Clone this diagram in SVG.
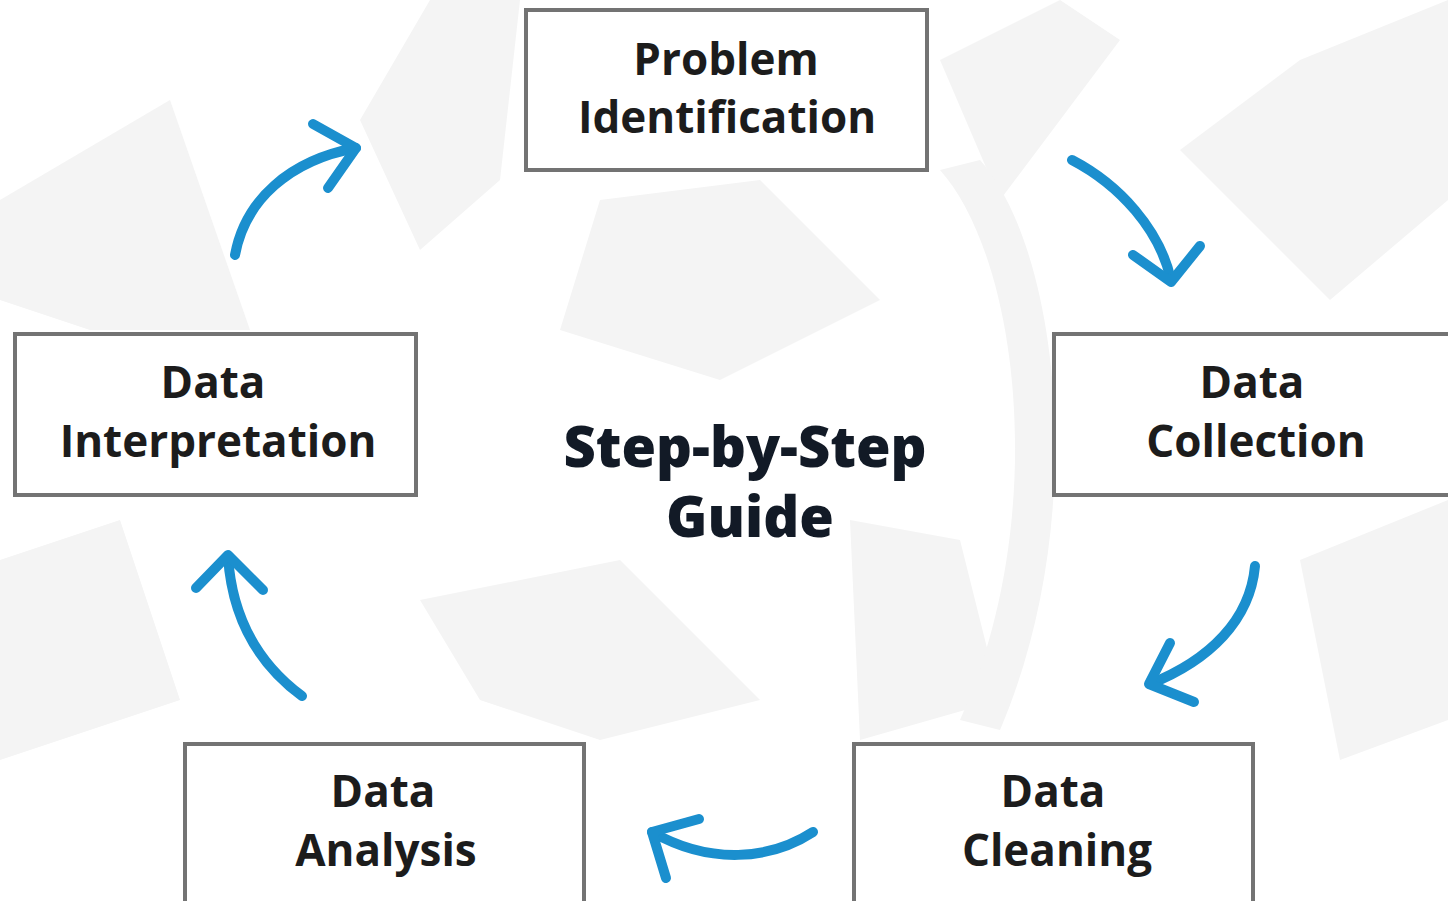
<svg xmlns="http://www.w3.org/2000/svg" width="1448" height="901" viewBox="0 0 1448 901">
  <defs>
    <style>
      .bg { fill: #f4f4f4; }
      .box { fill: #ffffff; stroke: #737373; stroke-width: 4; }
      .lbl { font-family: "Open Sans", "Noto Sans", "Liberation Sans", sans-serif; font-weight: 700; font-size: 44px; fill: #1c1c1c; text-anchor: middle; }
      .title { font-family: "Open Sans", "Noto Sans", "Liberation Sans", sans-serif; font-weight: 800; font-size: 56px; fill: #121a26; text-anchor: middle; }
      .arc { fill: none; stroke: #1b8fce; stroke-width: 10; stroke-linecap: round; stroke-linejoin: round; }
    </style>
  </defs>
  <rect x="0" y="0" width="1448" height="901" fill="#ffffff"/>
  <g id="background">
    <polygon class="bg" points="0,200 170,100 250,330 90,330 0,300"/>
    <polygon class="bg" points="430,0 520,0 500,180 420,250 360,120"/>
    <polygon class="bg" points="940,60 1060,0 1120,40 1000,200"/>
    <polygon class="bg" points="1180,150 1300,60 1448,0 1448,200 1330,300"/>
    <polygon class="bg" points="600,200 760,180 880,300 720,380 560,330"/>
    <polygon class="bg" points="0,560 120,520 180,700 0,760"/>
    <polygon class="bg" points="420,600 620,560 760,700 600,740 480,700"/>
    <polygon class="bg" points="1300,560 1448,500 1448,720 1340,760"/>
    <polygon class="bg" points="850,520 960,540 1000,700 860,740"/>
    <path class="bg" d="M940,170 C1020,260 1050,520 960,720 L1000,730 C1090,520 1060,250 980,160 Z"/>
  </g>
  <g id="node-problem">
    <rect class="box" x="526" y="10" width="401" height="160"/>
    <text class="lbl" x="726" y="75">Problem</text>
    <text class="lbl" x="727" y="133">Identification</text>
  </g>
  <g id="node-collection">
    <rect class="box" x="1054" y="334" width="410" height="161"/>
    <text class="lbl" x="1252" y="398">Data</text>
    <text class="lbl" x="1256" y="457">Collection</text>
  </g>
  <g id="node-cleaning">
    <rect class="box" x="854" y="744" width="399" height="170"/>
    <text class="lbl" x="1053" y="807">Data</text>
    <text class="lbl" x="1057" y="866">Cleaning</text>
  </g>
  <g id="node-analysis">
    <rect class="box" x="185" y="744" width="399" height="170"/>
    <text class="lbl" x="383" y="807">Data</text>
    <text class="lbl" x="386" y="866">Analysis</text>
  </g>
  <g id="node-interpretation">
    <rect class="box" x="15" y="334" width="401" height="161"/>
    <text class="lbl" x="213" y="398">Data</text>
    <text class="lbl" x="218" y="457">Interpretation</text>
  </g>
  <g id="center-title">
    <text class="title" x="745" y="467">Step-by-Step</text>
    <text class="title" x="750" y="537">Guide</text>
  </g>
  <g id="connectors">
    <path class="arc" d="M1072,160 C1120,185 1160,230 1171,280"/>
    <path class="arc" d="M1133,255 L1171,282 L1200,246"/>
    <path class="arc" d="M1255,566 C1250,620 1210,660 1150,684"/>
    <path class="arc" d="M1170,643 L1149,684 L1194,702"/>
    <path class="arc" d="M813,832 C770,860 710,865 652,832"/>
    <path class="arc" d="M699,819 L652,832 L666,878"/>
    <path class="arc" d="M302,696 C260,665 232,620 228,556"/>
    <path class="arc" d="M196,588 L228,555 L263,590"/>
    <path class="arc" d="M235,255 C245,200 290,160 356,148"/>
    <path class="arc" d="M313,124 L356,148 L328,188"/>
  </g>
</svg>
